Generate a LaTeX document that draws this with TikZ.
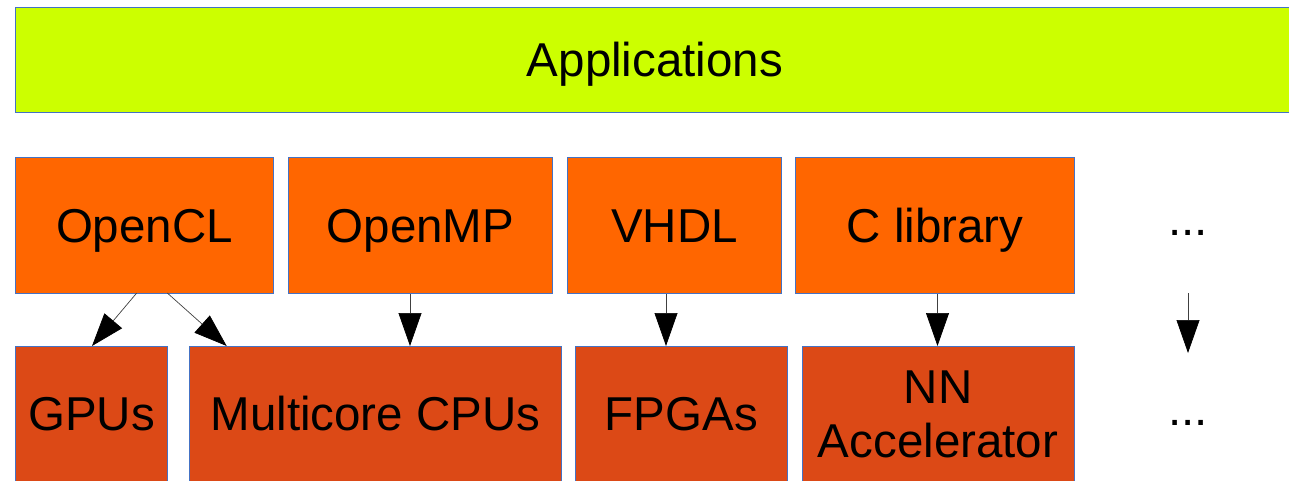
\documentclass[tikz,border=0pt]{standalone}
\usepackage{fontspec}
\setmainfont{Liberation Sans}
\usetikzlibrary{arrows.meta}
\definecolor{appgreen}{HTML}{CCFF00}
\definecolor{toporange}{HTML}{FF6600}
\definecolor{botorange}{HTML}{DC4916}
\definecolor{edgeblue}{HTML}{4472C4}
\tikzset{
  blk/.style={draw=edgeblue, line width=1pt, anchor=north west, inner sep=0pt,
    font=\fontsize{47.5}{54}\selectfont, text height=34pt, text depth=0pt},
  topblk/.style={blk, fill=toporange, minimum height=136pt},
  botblk/.style={blk, fill=botorange, minimum height=145pt, text depth=11pt},
  arr/.style={draw=black!75, line width=0.7pt, -{Triangle[length=33pt,width=23pt,color=black]}},
  dots/.style={font=\fontsize{47.5}{54}\selectfont, inner sep=0pt}
}
\begin{document}
\begin{tikzpicture}[x=1pt,y=-1pt]
\useasboundingbox (0,0) rectangle (1289,480);
\clip (0,0) rectangle (1289,480);
% Applications
\node[blk, fill=appgreen, minimum width=1300pt, minimum height=105pt] (app) at (15,7) {};
\node[font=\fontsize{47.5}{54}\selectfont, text height=34pt, text depth=0pt, inner sep=0pt] (applbl) at (655,59) {Applications};
% top row
\node[topblk, minimum width=258pt] (opencl) at (15,157) {OpenCL};
\node[topblk, minimum width=264pt] (openmp) at (288,157) {OpenMP};
\node[topblk, minimum width=214pt] (vhdl) at (567,157) {VHDL};
\node[topblk, minimum width=279pt] (clib) at (795,157) {C library};
% bottom row (open at the lower edge)
\node[botblk, minimum width=152pt] (gpus) at (15,346) {GPUs};
\node[botblk, minimum width=372pt] (cpus) at (189,346) {Multicore CPUs};
\node[botblk, minimum width=212pt] (fpgas) at (575,346) {FPGAs};
\node[botblk, minimum width=272pt] (nn) at (802,346) {};
\node[font=\fontsize{47.5}{54}\selectfont, align=center, inner sep=0pt] (nnlbl) at (938,414) {NN\\Accelerator};
% dots
\node[dots] (dtop) at (1188,233) {...};
\node[dots] (dbot) at (1188,423) {...};
\coordinate (dstart) at (1188,293);
\coordinate (dend) at (1188,353);
% arrows
\draw[arr] (136.7,293) coordinate (o1) -- (92,346) coordinate (g1);
\draw[arr] (167.3,293) coordinate (o2) -- (226.7,346) coordinate (c1);
\draw[arr] (openmp.south -| 410,0) -- (cpus.north -| 410,0);
\draw[arr] (vhdl.south -| 666,0) -- (fpgas.north -| 666,0);
\draw[arr] (clib.south -| 937.5,0) -- (nn.north -| 937.5,0);
\draw[arr] (dstart) -- (dend);
\end{tikzpicture}
\end{document}
